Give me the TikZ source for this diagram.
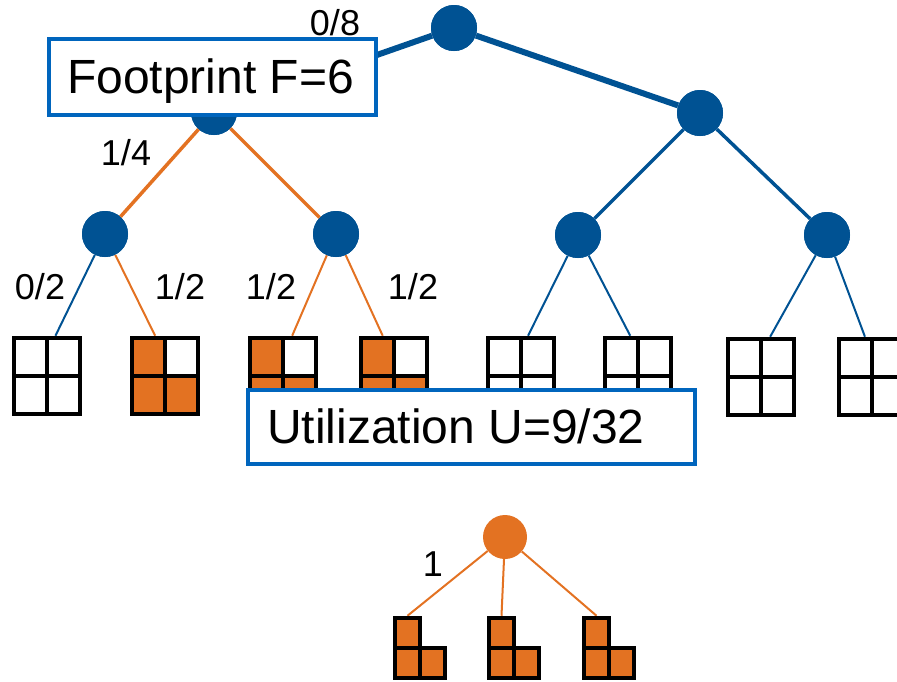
\documentclass[tikz,border=0pt]{standalone}
\usepackage{fontspec}
\setmainfont{Liberation Sans}
\usetikzlibrary{calc}
\definecolor{nodeblue}{RGB}{0,82,147}
\definecolor{boxblue}{RGB}{0,101,189}
\definecolor{accent}{RGB}{227,114,34}

% divider lines and filled cells of a 2x2 block
\newcommand\blockgrid{%
  \draw[black,line width=4.5pt]
    (path picture bounding box.north) -- (path picture bounding box.south)
    (path picture bounding box.west) -- (path picture bounding box.east);}
\newcommand\blockfill{%
  \fill[accent] (path picture bounding box.north west) rectangle (path picture bounding box.center);
  \fill[accent] (path picture bounding box.west) rectangle (path picture bounding box.south east);}

\begin{document}
\begin{tikzpicture}[x=1pt,y=-1pt,
  tnode/.style={circle,fill=nodeblue,minimum size=46pt,inner sep=0pt},
  onode/.style={circle,fill=accent,minimum size=44pt,inner sep=0pt},
  heavy/.style={draw=nodeblue,line width=6pt},
  medium/.style={line width=3.5pt},
  light/.style={line width=2pt},
  lbl/.style={font=\fontsize{36}{40}\selectfont,inner sep=0pt,anchor=base},
  infobox/.style={draw=boxblue,fill=white,line width=4.5pt,inner sep=0pt},
  infotext/.style={font=\fontsize{48}{52}\selectfont,inner sep=0pt,anchor=base west},
  block/.style={draw=black,line width=4.5pt,minimum width=66pt,minimum height=76pt,inner sep=0pt},
  emptyblock/.style={block,path picture={\blockgrid}},
  usedblock/.style={block,path picture={\blockfill\blockgrid}},
  cell/.style={draw=black,fill=accent,line width=4.5pt,minimum width=25pt,minimum height=30pt,inner sep=0pt},
  twig/.style={draw=accent,line width=2pt}]
\useasboundingbox (0,0) rectangle (897,681);

% tree nodes
\node[tnode] (r)  at (454,28)  {};
\node[tnode] (a)  at (214,112) {};
\node[tnode] (b)  at (700,113) {};
\node[tnode] (a1) at (105,234) {};
\node[tnode] (a2) at (336,234) {};
\node[tnode] (b1) at (578,235) {};
\node[tnode] (b2) at (827,235) {};

% leaf blocks
\node[emptyblock] (l1) at (47,376)  {};
\node[usedblock]  (l2) at (165,376) {};
\node[usedblock]  (l3) at (283,376) {};
\node[usedblock]  (l4) at (394,376) {};
\node[emptyblock] (l5) at (521,376) {};
\node[emptyblock] (l6) at (638,376) {};
\node[emptyblock] (l7) at (761,377) {};
\node[emptyblock] (l8) at (872,377) {};

% edges
\draw[heavy] (r) -- (a);
\draw[heavy] (r) -- (b);
\draw[medium,accent] (a) -- (a1);
\draw[medium,accent] (a) -- (a2);
\draw[medium,nodeblue] (b) -- (b1);
\draw[medium,nodeblue] (b) -- (b2);
\draw[light,nodeblue] (a1) -- ($(l1.north west)!0.62!(l1.north east)$);
\draw[light,accent]   (a1) -- ($(l2.north west)!0.36!(l2.north east)$);
\draw[light,accent]   (a2) -- ($(l3.north west)!0.63!(l3.north east)$);
\draw[light,accent]   (a2) -- ($(l4.north west)!0.34!(l4.north east)$);
\draw[light,nodeblue] (b1) -- ($(l5.north west)!0.60!(l5.north east)$);
\draw[light,nodeblue] (b1) -- ($(l6.north west)!0.39!(l6.north east)$);
\draw[light,nodeblue] (b2) -- ($(l7.north west)!0.63!(l7.north east)$);
\draw[light,nodeblue] (b2) -- ($(l8.north west)!0.40!(l8.north east)$);

% redraw nodes and blocks over edge ends
\node[tnode] at (r) {};
\node[tnode] at (a) {};
\node[tnode] at (b) {};
\node[tnode] at (a1) {};
\node[tnode] at (a2) {};
\node[tnode] at (b1) {};
\node[tnode] at (b2) {};
\node[emptyblock] at (l1) {};
\node[usedblock]  at (l2) {};
\node[usedblock]  at (l3) {};
\node[usedblock]  at (l4) {};
\node[emptyblock] at (l5) {};
\node[emptyblock] at (l6) {};
\node[emptyblock] at (l7) {};
\node[emptyblock] at (l8) {};

% edge labels
\node[lbl] (t08) at (335,35)  {0/8};
\node[lbl] (t14) at (126,165) {1/4};
\node[lbl] (t02) at (40,299)  {0/2};
\node[lbl] (t12a) at (180,299) {1/2};
\node[lbl] (t12b) at (271,299) {1/2};
\node[lbl] (t12c) at (413,299) {1/2};

% info boxes
\node[infobox,minimum width=327pt,minimum height=76pt] (fbox) at (212.5,77) {};
\node[infotext] (ftext) at (67,93) {Footprint F=6};
\node[infobox,minimum width=447pt,minimum height=74pt] (ubox) at (471.5,427) {};
\node[infotext] (utext) at (267,443) {Utilization U=9/32};

% small tree
\node[onode] (c) at (505,537) {};
\node[cell] (p1) at (407.5,633) {};
\node[cell] (q1) at (407.5,663) {};
\node[cell] (s1) at (432.5,663) {};
\node[cell] (p2) at (501.5,633) {};
\node[cell] (q2) at (501.5,663) {};
\node[cell] (s2) at (526.5,663) {};
\node[cell] (p3) at (596.5,633) {};
\node[cell] (q3) at (596.5,663) {};
\node[cell] (s3) at (621.5,663) {};
\draw[twig] (c) -- (p1.north);
\draw[twig] (c) -- (p2.north);
\draw[twig] (c) -- (p3.north);
\node[cell] at (p1) {};
\node[cell] at (p2) {};
\node[cell] at (p3) {};
\node[lbl] (t1) at (433,576) {1};
\end{tikzpicture}
\end{document}
